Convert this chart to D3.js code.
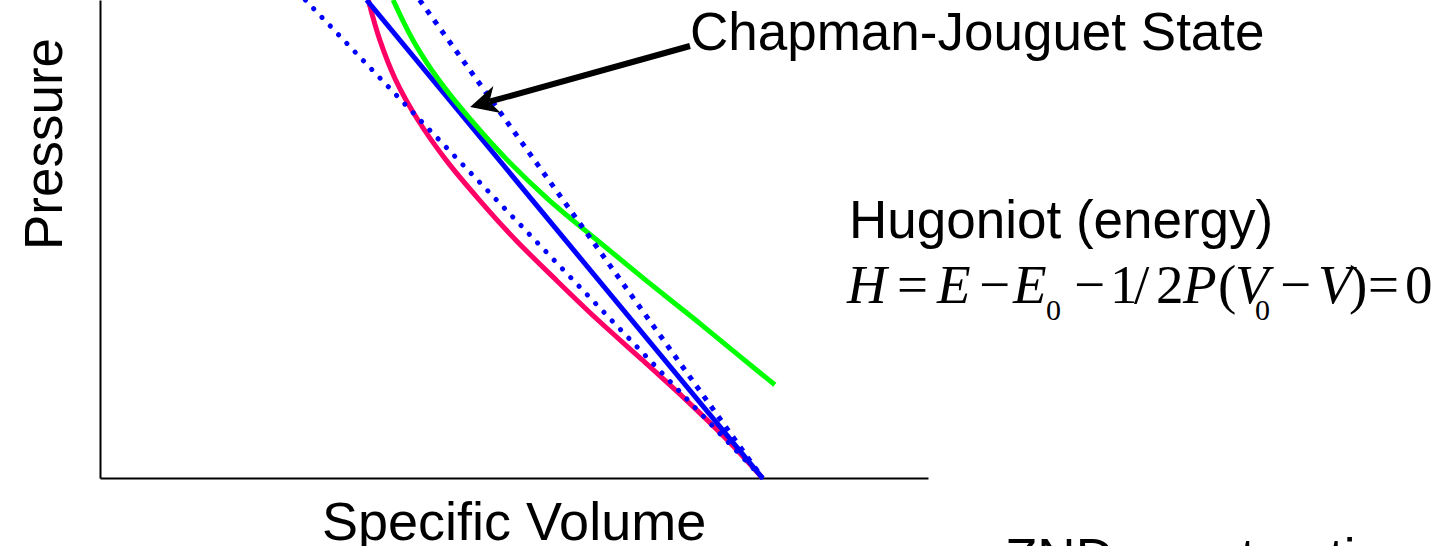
<!DOCTYPE html>
<html>
<head>
<meta charset="utf-8">
<script src="https://cdn.jsdelivr.net/npm/d3@7"></script>
<style>
  body { margin: 0; background: #fff; overflow: hidden; }
  text { font-family: "Liberation Sans", Arial, sans-serif; fill: #000; }
  text.eq { font-family: "Liberation Serif", "Times New Roman", serif; }
</style>
</head>
<body>
<script>
// Hugoniot curves and Rayleigh lines in the P-V plane (arbitrary units 0..100)

// unreacted Hugoniot (red)
const redV = [32.4, 33.8, 35.7, 38.4, 41.8, 45.8, 50.2, 55.1, 60.1, 65.5, 70.8, 75.8, 80.0]
const redP = [100, 91.6, 83.3, 74.9, 66.5, 58.2, 49.8, 41.4, 33.1, 24.7, 16.3, 7.9, 0]

// reacted Hugoniot (green)
const greenV = [35.4, 37.8, 40.9, 44.8, 49.2, 54.2, 60.0, 65.9, 71.9, 77.8, 81.5]
const greenP = [100, 91.6, 83.3, 74.9, 66.5, 58.2, 49.8, 41.4, 33.1, 24.7, 19.5]

// Rayleigh lines, all from the initial state (V0, 0)
const cjRayV = [32.2, 80.0]      // tangent one (solid blue)
const cjRayP = [100, 0]
const lowRayV = [24.8, 80.0]     // round dots
const lowRayP = [100, 0]
const highRayV = [38.6, 80.0]    // square dots
const highRayP = [100, 0]

// Chapman-Jouguet point
const cjPoint = [44.7, 77.6]

const width = 1437, height = 546

const svg = d3.select("body").append("svg")
    .attr("width", width)
    .attr("height", height)

const x = d3.scaleLinear().domain([0, 100]).range([100, 928])
const y = d3.scaleLinear().domain([0, 100]).range([478, 0])

// axes, no ticks
svg.append("g")
    .attr("transform", "translate(0,478)")
    .call(d3.axisBottom(x).tickValues([]).tickSizeOuter(0))
    .select(".domain").attr("stroke", "#000").attr("stroke-width", 2)

svg.append("g")
    .attr("transform", "translate(100,0)")
    .call(d3.axisLeft(y).tickValues([]).tickSizeOuter(0))
    .select(".domain").attr("stroke", "#000").attr("stroke-width", 2)

const zip = (vs, ps) => vs.map((v, i) => [v, ps[i]])

const line = d3.line()
    .x(d => x(d[0]))
    .y(d => y(d[1]))

const curve = d3.line()
    .x(d => x(d[0]))
    .y(d => y(d[1]))
    .curve(d3.curveCatmullRom.alpha(0.5))

svg.append("path")
    .attr("d", curve(zip(redV, redP)))
    .attr("fill", "none")
    .attr("stroke", "#ff0066")
    .attr("stroke-width", 5)

svg.append("path")
    .attr("d", line(zip(cjRayV, cjRayP)))
    .attr("fill", "none")
    .attr("stroke", "#0000ff")
    .attr("stroke-width", 5)

svg.append("path")
    .attr("d", curve(zip(greenV, greenP)))
    .attr("fill", "none")
    .attr("stroke", "#00ff00")
    .attr("stroke-width", 5)

svg.append("path")
    .attr("d", line(zip(lowRayV, lowRayP)))
    .attr("fill", "none")
    .attr("stroke", "#0000ff")
    .attr("stroke-width", 5)
    .attr("stroke-linecap", "round")
    .attr("stroke-dasharray", "0.1 11.9")

svg.append("path")
    .attr("d", line(zip(highRayV, highRayP)))
    .attr("fill", "none")
    .attr("stroke", "#0000ff")
    .attr("stroke-width", 5)
    .attr("stroke-dasharray", "5 7.5")

// arrow to the CJ state
const tip = [x(cjPoint[0]), y(cjPoint[1])]
const tail = [690, 46]
const dx = tail[0] - tip[0], dy = tail[1] - tip[1]
const len = Math.sqrt(dx * dx + dy * dy)
const ux = dx / len, uy = dy / len
const headLen = 28, headW = 14, notch = 20
const base = [tip[0] + ux * headLen, tip[1] + uy * headLen]
svg.append("line")
    .attr("x1", tail[0]).attr("y1", tail[1])
    .attr("x2", tip[0] + ux * notch).attr("y2", tip[1] + uy * notch)
    .attr("stroke", "#000")
    .attr("stroke-width", 6)
svg.append("polygon")
    .attr("points", [
        tip,
        [base[0] - uy * headW, base[1] + ux * headW],
        [tip[0] + ux * notch, tip[1] + uy * notch],
        [base[0] + uy * headW, base[1] - ux * headW]
    ].map(p => p.join(",")).join(" "))
    .attr("fill", "#000")

// labels
svg.append("text")
    .attr("x", 690).attr("y", 50)
    .attr("font-size", 53)
    .text("Chapman-Jouguet State")

svg.append("text")
    .attr("x", 849).attr("y", 238)
    .attr("font-size", 53)
    .text("Hugoniot (energy)")

svg.append("text")
    .attr("x", 322).attr("y", 540)
    .attr("font-size", 54)
    .text("Specific Volume")

svg.append("text")
    .attr("transform", "translate(62,144) rotate(-90)")
    .attr("text-anchor", "middle")
    .attr("font-size", 53)
    .text("Pressure")

svg.append("text")
    .attr("x", 1005).attr("y", 576)
    .attr("font-size", 53)
    .text("ZND construction")

// H = E - E0 - 1/2 P (V0 - V) = 0, one glyph per tspan
const eqGlyphs = ["H", "=", "E", "\u2212", "E", "0", "\u2212", "1", "/", "2", "P", "(", "V", "0", "\u2212", "V", ")", "=", "0"]
const eqX = [847, 897, 937, 979, 1013, 1046, 1074, 1110, 1134, 1156, 1183, 1218, 1235, 1255, 1280, 1318, 1349, 1368, 1405]
const eqItalic = [1, 0, 1, 0, 1, 0, 0, 0, 0, 0, 1, 0, 1, 0, 0, 1, 0, 0, 0]
const eqSub = [0, 0, 0, 0, 0, 1, 0, 0, 0, 0, 0, 0, 0, 1, 0, 0, 0, 0, 0]

svg.append("text")
    .attr("class", "eq")
    .attr("font-size", 55)
    .selectAll("tspan")
    .data(eqGlyphs)
    .enter()
    .append("tspan")
    .attr("x", (d, i) => eqX[i])
    .attr("y", (d, i) => eqSub[i] ? 320 : 303)
    .attr("font-size", (d, i) => eqSub[i] ? 30 : 55)
    .attr("font-style", (d, i) => eqItalic[i] ? "italic" : "normal")
    .text(d => d)
</script>
</body>
</html>
